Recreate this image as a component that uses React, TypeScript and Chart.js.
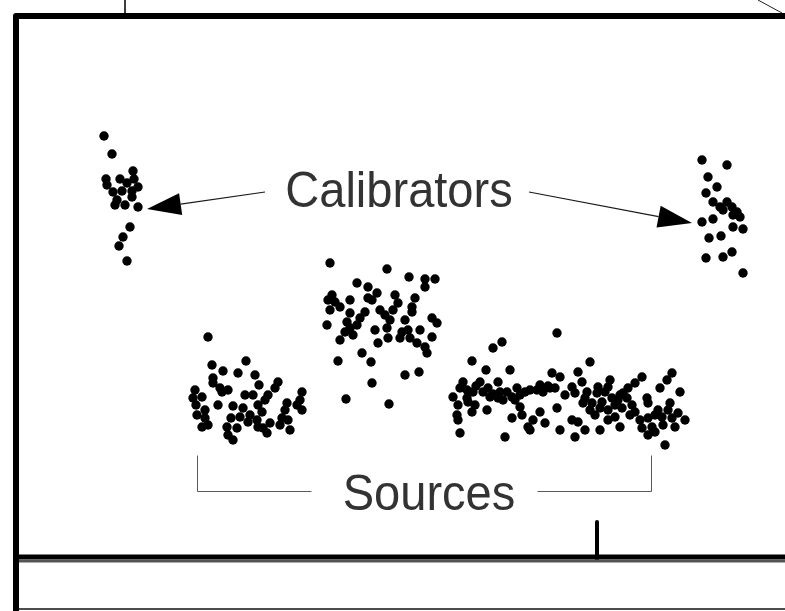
import React, { useEffect, useRef } from "react";
import { Chart, registerables } from "chart.js";

Chart.register(...registerables);

// Scatter clusters, in picture units (x: 0..785 left→right, y: 0..611 top→bottom)
const calibratorLeft: [number, number][] = [
  [104, 136], [112, 154], [106, 179], [120, 179], [133, 171], [134, 179], [127, 183],
  [138, 187], [113, 192], [122, 191], [132, 191], [117, 200], [115, 205], [125, 205],
  [132, 197], [138, 207], [107, 185], [130, 227], [123, 237], [119, 246], [127, 261],
];

const calibratorRight: [number, number][] = [
  [702, 160], [727, 165], [708, 177], [717, 187], [706, 193], [713, 202], [720, 207],
  [727, 202], [732, 207], [737, 212], [740, 217], [733, 215], [723, 210], [702, 222],
  [713, 219], [733, 227], [743, 229], [709, 238], [721, 236], [732, 252], [723, 257],
  [706, 258], [743, 273],
];

const sourceA: [number, number][] = [
  [208, 337], [212, 365], [223, 371], [238, 373], [246, 361], [255, 375], [259, 385],
  [278, 382], [275, 388], [213, 383], [220, 388], [222, 392], [195, 390], [193, 398],
  [202, 397], [218, 405], [233, 406], [243, 408], [253, 395], [258, 405], [268, 395],
  [265, 400], [302, 392], [287, 403], [297, 405], [302, 410], [285, 410], [205, 410],
  [197, 415], [205, 418], [250, 415], [240, 417], [257, 420], [270, 423], [282, 418],
  [288, 420], [290, 430], [202, 427], [208, 425], [227, 427], [228, 435], [237, 428],
  [233, 440], [263, 428], [267, 433], [258, 427], [248, 422],
  [213, 378], [228, 390], [262, 412], [280, 425], [245, 395], [300, 400], [196, 405],
  [231, 418],
];

const sourceB: [number, number][] = [
  [330, 263], [387, 269], [409, 277], [425, 279], [435, 279], [357, 283], [368, 287],
  [377, 293], [368, 298], [425, 287], [395, 295], [398, 303], [415, 298], [412, 307],
  [332, 295], [335, 302], [328, 300], [330, 310], [350, 313], [365, 312], [380, 310],
  [385, 315], [393, 310], [405, 320], [432, 318], [437, 323], [327, 325], [347, 322],
  [350, 328], [357, 325], [345, 332], [353, 335], [387, 328], [388, 338], [402, 332],
  [408, 330], [400, 338], [410, 338], [432, 337], [340, 340], [378, 343], [417, 343],
  [425, 347], [427, 353], [362, 353], [338, 361], [371, 362], [405, 375], [419, 372],
  [372, 383], [346, 399], [389, 404],
  [340, 307], [360, 318], [372, 300], [390, 320], [420, 330], [350, 300], [412, 312],
  [375, 330],
];

const sourceC: [number, number][] = [
  [557, 333], [502, 342], [493, 348], [472, 361], [486, 370], [510, 370], [552, 373],
  [560, 377], [463, 382], [480, 382], [498, 382], [517, 388], [540, 385], [550, 388],
  [467, 390], [473, 392], [483, 392], [493, 394], [507, 392], [525, 392], [537, 390],
  [555, 388], [453, 397], [467, 398], [490, 397], [498, 398], [512, 397], [520, 395],
  [543, 392], [468, 402], [503, 400], [487, 410], [520, 407], [557, 408], [472, 412],
  [457, 415], [458, 420], [522, 415], [540, 412], [512, 418], [533, 420], [545, 423],
  [528, 427], [530, 430], [560, 430], [460, 433], [505, 437],
  [590, 362], [578, 372], [582, 382], [572, 387], [598, 387], [608, 387], [642, 377],
  [635, 383], [672, 373], [667, 380], [660, 388], [680, 392], [575, 393], [587, 392],
  [597, 393], [605, 392], [628, 388], [623, 393], [612, 398], [618, 400], [627, 398],
  [647, 398], [583, 403], [592, 403], [602, 402], [615, 405], [632, 405], [648, 403],
  [590, 410], [600, 408], [608, 410], [622, 408], [635, 412], [658, 410], [668, 410],
  [678, 413], [615, 417], [648, 418], [662, 417], [672, 418], [572, 420], [578, 422],
  [608, 420], [620, 427], [675, 427], [663, 425], [642, 428], [652, 427], [600, 430],
  [648, 435], [575, 437], [655, 432], [665, 445],
  [460, 388], [476, 386], [488, 388], [530, 390], [548, 386], [458, 405], [475, 405],
  [500, 392], [515, 400], [565, 395], [585, 398], [595, 415], [630, 415], [640, 420],
  [655, 415], [670, 403], [685, 420], [620, 395], [610, 380], [585, 430],
];

// Frame lines of the cropped diagram
const frameOuter: [number, number][] = [[16, 611], [16, 16], [785, 16]];
const baseLineBlack: [number, number][] = [[16, 557], [785, 557]];
const baseLineGrey: [number, number][] = [[16, 561], [785, 561]];
const baseTick: [number, number][] = [[597, 522], [597, 560]];
const bottomLine: [number, number][] = [[16, 609], [785, 609]];
const topStubVertical: [number, number][] = [[125, 0], [125, 16]];
const topStubDiagonal: [number, number][] = [[758, 0], [782, 13]];

// Annotations
const labelTexts = ["Calibrators", "Sources"];
const labelAnchors: [number, number][] = [[399, 207], [429, 510]];
const arrowLeft: [number, number][] = [[265, 192], [147, 209]];
const arrowRight: [number, number][] = [[529, 192], [692, 223]];
const bracketLeft: [number, number][] = [[197, 455], [197, 491], [311, 491]];
const bracketRight: [number, number][] = [[537, 491], [651, 491], [651, 455]];

const toPts = (arr: [number, number][]) => arr.map(([x, y]) => ({ x, y }));

const annotationPlugin = {
  id: "diagramAnnotations",
  afterDatasetsDraw(chart: any) {
    const { ctx, scales } = chart;
    const px = (p: [number, number]) => [scales.x.getPixelForValue(p[0]), scales.y.getPixelForValue(p[1])];
    ctx.save();
    // brackets
    ctx.strokeStyle = "#5a5a5a";
    ctx.lineWidth = 1;
    for (const br of [bracketLeft, bracketRight]) {
      ctx.beginPath();
      br.forEach((p, i) => {
        const [x, y] = px(p);
        if (i === 0) ctx.moveTo(x + 0.5, y + 0.5);
        else ctx.lineTo(x + 0.5, y + 0.5);
      });
      ctx.stroke();
    }
    // arrows
    for (const ar of [arrowLeft, arrowRight]) {
      const [x0, y0] = px(ar[0]);
      const [x1, y1] = px(ar[1]);
      const ang = Math.atan2(y1 - y0, x1 - x0);
      const len = 34;
      const hw = 11;
      const bx = x1 - Math.cos(ang) * len;
      const by = y1 - Math.sin(ang) * len;
      ctx.strokeStyle = "#1a1a1a";
      ctx.lineWidth = 1.2;
      ctx.beginPath();
      ctx.moveTo(x0, y0);
      ctx.lineTo(bx, by);
      ctx.stroke();
      ctx.fillStyle = "#000";
      ctx.beginPath();
      ctx.moveTo(x1, y1);
      ctx.lineTo(bx + Math.sin(ang) * hw, by - Math.cos(ang) * hw);
      ctx.lineTo(bx - Math.sin(ang) * hw, by + Math.cos(ang) * hw);
      ctx.closePath();
      ctx.fill();
    }
    // labels
    ctx.fillStyle = "#333333";
    ctx.font = "48px 'Liberation Sans', Arial, sans-serif";
    ctx.textAlign = "center";
    ctx.textBaseline = "alphabetic";
    labelTexts.forEach((t, i) => {
      const [x, y] = px(labelAnchors[i]);
      ctx.save();
      ctx.translate(x, y);
      ctx.scale(0.98, 1.06);
      ctx.fillText(t, 0, 0);
      ctx.restore();
    });
    ctx.restore();
  },
};

export default function App() {
  const ref = useRef<HTMLCanvasElement>(null);
  useEffect(() => {
    if (!ref.current) return;
    const pointDs = (pts: [number, number][], label: string) => ({
      label,
      data: toPts(pts),
      backgroundColor: "#000",
      borderColor: "#000",
      pointRadius: 4.7,
      pointBorderWidth: 0,
      pointStyle: "circle",
      showLine: false,
    });
    const lineDs = (pts: [number, number][], color: string, width: number) => ({
      data: toPts(pts),
      borderColor: color,
      borderWidth: width,
      pointRadius: 0,
      showLine: true,
      fill: false,
      borderJoinStyle: "round",
      borderCapStyle: "butt",
    });
    const chart = new Chart(ref.current, {
      type: "scatter",
      data: {
        datasets: [
          lineDs(frameOuter, "#000", 6),
          lineDs(baseLineGrey, "#555", 3),
          lineDs(baseLineBlack, "#000", 5),
          lineDs(baseTick, "#000", 4),
          lineDs(bottomLine, "#111", 1.5),
          lineDs(topStubVertical, "#222", 1),
          lineDs(topStubDiagonal, "#222", 1),
          pointDs(calibratorLeft, "Calibrator 1"),
          pointDs(calibratorRight, "Calibrator 2"),
          pointDs(sourceA, "Source 1"),
          pointDs(sourceB, "Source 2"),
          pointDs(sourceC, "Source 3"),
        ] as any,
      },
      options: {
        animation: false,
        responsive: false,
        events: [],
        layout: { padding: 0, autoPadding: false },
        scales: {
          x: { type: "linear", min: 0, max: 785, display: false },
          y: { type: "linear", min: 0, max: 611, reverse: true, display: false },
        },
        plugins: { legend: { display: false }, tooltip: { enabled: false } },
        clip: false as any,
      },
      plugins: [annotationPlugin],
    });
    return () => chart.destroy();
  }, []);
  return (
    <div style={{ position: "fixed", left: 0, top: 0, width: 785, height: 611, background: "#fff" }}>
      <canvas ref={ref} width={785} height={611} style={{ display: "block" }} />
    </div>
  );
}
